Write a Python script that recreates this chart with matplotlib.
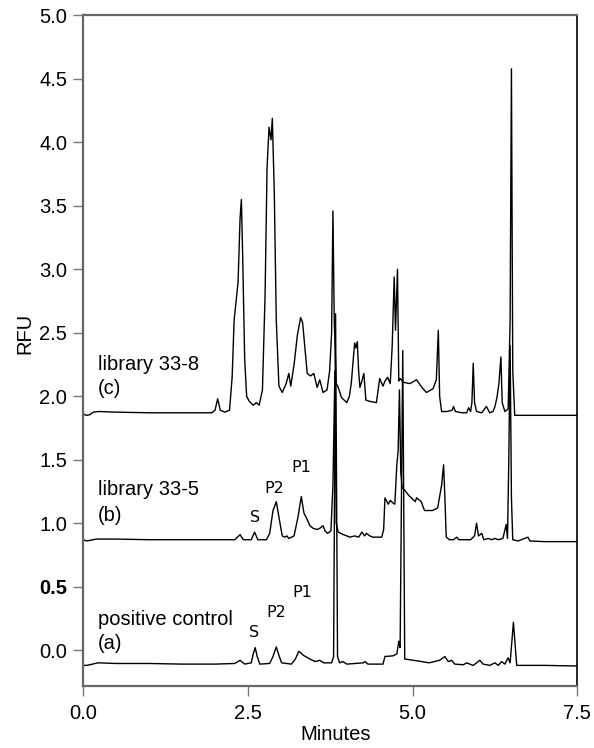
import matplotlib
matplotlib.use("Agg")
import matplotlib.pyplot as plt
import numpy as np

plt.rcParams['font.family'] = ['Liberation Sans', 'DejaVu Sans']

# trace (c) library 33-8 : time (min), RFU
t_c = [0.0, 0.05, 0.10, 0.15, 0.23, 0.5, 1.0, 1.5, 1.95, 2.00, 2.04, 2.08, 2.15, 2.22,
       2.26, 2.29, 2.32, 2.35, 2.38, 2.40, 2.42, 2.45, 2.48, 2.52, 2.58, 2.63, 2.67, 2.72,
       2.76, 2.79, 2.82, 2.85, 2.87, 2.90, 2.93, 2.97, 3.02, 3.08, 3.12, 3.15, 3.20, 3.25,
       3.30, 3.33, 3.37, 3.40, 3.45, 3.50, 3.55, 3.59, 3.64, 3.70, 3.74, 3.77, 3.79, 3.81,
       3.84, 3.87, 3.92, 4.00, 4.04, 4.07, 4.10, 4.12, 4.14, 4.16, 4.18, 4.20, 4.23, 4.26,
       4.29, 4.35, 4.45, 4.50, 4.55, 4.58, 4.62, 4.66, 4.69, 4.72, 4.74, 4.77, 4.79, 4.81,
       4.86, 4.96, 5.06, 5.14, 5.21, 5.31, 5.36, 5.39, 5.41, 5.44, 5.52, 5.60, 5.62, 5.65,
       5.75, 5.82, 5.85, 5.88, 5.90, 5.92, 5.94, 5.97, 6.05, 6.12, 6.17, 6.22, 6.25, 6.28,
       6.31, 6.34, 6.36, 6.40, 6.45, 6.48, 6.50, 6.52, 6.55, 6.70, 7.0, 7.25, 7.5]
y_c = [1.86, 1.85, 1.855, 1.875, 1.88, 1.875, 1.87, 1.87, 1.87, 1.89, 1.98, 1.89, 1.875, 1.89,
       2.15, 2.6, 2.75, 2.9, 3.4, 3.55, 3.1, 2.3, 2.0, 1.96, 1.93, 1.95, 1.93, 2.05,
       2.8, 3.8, 4.12, 4.02, 4.19, 3.6, 2.6, 2.08, 2.03, 2.1, 2.18, 2.08, 2.25, 2.48,
       2.62, 2.58, 2.35, 2.18, 2.16, 2.18, 2.07, 2.13, 2.03, 2.05, 2.2, 2.5, 3.46, 2.6,
       2.1, 2.07, 1.99, 1.95, 2.0, 2.11, 2.3, 2.42, 2.38, 2.43, 2.2, 2.07, 2.12, 2.18,
       1.97, 1.96, 1.95, 2.14, 2.08, 2.12, 2.15, 2.1, 2.4, 2.94, 2.52, 3.0, 2.12, 2.14,
       2.11, 2.1, 2.13, 2.07, 2.03, 2.06, 2.13, 2.52, 2.0, 1.88, 1.88, 1.89, 1.92, 1.88,
       1.87, 1.87, 1.91, 1.88, 1.95, 2.26, 1.95, 1.88, 1.87, 1.92, 1.87, 1.88, 1.92, 1.99,
       2.1, 2.31, 1.95, 1.88, 1.9, 2.6, 4.58, 2.2, 1.85, 1.85, 1.85, 1.85, 1.85]

# trace (b) library 33-5
t_b = [0.0, 0.05, 0.1, 0.2, 0.5, 1.0, 1.5, 2.0, 2.3, 2.38, 2.43, 2.55, 2.60, 2.65, 2.78,
       2.83, 2.88, 2.93, 2.97, 3.02, 3.06, 3.09, 3.12, 3.20, 3.26, 3.31, 3.35, 3.39, 3.44,
       3.49, 3.55, 3.59, 3.64, 3.67, 3.71, 3.76, 3.79, 3.82, 3.84, 3.87, 3.95, 4.0, 4.05,
       4.12, 4.18, 4.23, 4.27, 4.30, 4.35, 4.40, 4.53, 4.56, 4.58, 4.63, 4.66, 4.70, 4.73,
       4.76, 4.78, 4.80, 4.82, 4.84, 4.88, 4.94, 5.04, 5.06, 5.13, 5.18, 5.30, 5.38, 5.44,
       5.47, 5.49, 5.51, 5.56, 5.62, 5.67, 5.70, 5.80, 5.88, 5.94, 5.97, 6.00, 6.05, 6.08,
       6.15, 6.20, 6.25, 6.30, 6.37, 6.42, 6.44, 6.46, 6.48, 6.50, 6.52, 6.6, 6.75, 6.78,
       7.0, 7.5]
y_b = [0.87, 0.86, 0.865, 0.875, 0.875, 0.87, 0.87, 0.87, 0.87, 0.91, 0.87, 0.87, 0.93, 0.87, 0.87,
       0.92, 1.1, 1.17, 1.05, 0.9, 0.89, 0.9, 0.88, 0.9, 1.05, 1.21, 1.08, 1.04, 0.98,
       0.96, 0.95, 0.96, 0.98, 0.94, 0.92, 0.94, 1.3, 2.2, 1.0, 0.93, 0.91, 0.9, 0.89,
       0.9, 0.89, 0.93, 0.9, 0.92, 0.9, 0.89, 0.89, 0.95, 1.2, 1.15, 1.18, 1.16, 1.15,
       1.46, 1.57, 2.05, 1.4, 1.28, 1.26, 1.22, 1.17, 1.2, 1.17, 1.1, 1.1, 1.12, 1.3,
       1.46, 1.2, 0.89, 0.87, 0.87, 0.89, 0.87, 0.87, 0.87, 0.9, 1.0, 0.9, 0.92, 0.87,
       0.88, 0.87, 0.88, 0.87, 0.88, 0.99, 0.88, 1.5, 2.4, 1.2, 0.87, 0.86, 0.89, 0.86,
       0.855, 0.855]

# trace (a) positive control
t_a = [0.0, 0.05, 0.1, 0.18, 0.23, 0.5, 1.0, 1.5, 2.0, 2.3, 2.38, 2.45, 2.55, 2.58, 2.61,
       2.64, 2.68, 2.83, 2.88, 2.93, 2.97, 3.01, 3.16, 3.22, 3.27, 3.30, 3.34, 3.44, 3.52,
       3.59, 3.65, 3.77, 3.80, 3.83, 3.86, 3.89, 3.94, 4.0, 4.25, 4.28, 4.32, 4.55, 4.58,
       4.70, 4.76, 4.79, 4.81, 4.85, 4.88, 5.08, 5.25, 5.41, 5.49, 5.54, 5.59, 5.64, 5.77,
       5.82, 5.92, 6.02, 6.07, 6.17, 6.25, 6.30, 6.35, 6.40, 6.45, 6.48, 6.53, 6.58, 6.73,
       7.0, 7.5]
y_a = [-0.12, -0.12, -0.115, -0.105, -0.1, -0.105, -0.105, -0.11, -0.11, -0.105, -0.08, -0.11, -0.1, -0.03, 0.02,
       -0.05, -0.11, -0.105, -0.05, 0.025, -0.04, -0.1, -0.11, -0.07, -0.01, -0.02, -0.04, -0.07, -0.09,
       -0.08, -0.1, -0.1, -0.05, 2.65, -0.05, -0.1, -0.09, -0.11, -0.1, -0.09, -0.11, -0.11, -0.05,
       -0.045, -0.03, 0.07, 0.02, 2.36, -0.07, -0.085, -0.1, -0.08, -0.05, -0.09, -0.08, -0.11, -0.115,
       -0.1, -0.12, -0.08, -0.11, -0.12, -0.1, -0.12, -0.09, -0.11, -0.06, -0.1, 0.22, -0.12, -0.12,
       -0.12, -0.125]

x_ticks = [0.0, 2.5, 5.0, 7.5]
y_ticks = [0.0, 0.5, 1.0, 1.5, 2.0, 2.5, 3.0, 3.5, 4.0, 4.5, 5.0]

fig = plt.figure(figsize=(5.94, 7.48), dpi=100)
ax = fig.add_axes([0.1402, 0.0833, 0.8317, 0.896])

for t, y in [(t_c, y_c), (t_b, y_b), (t_a, y_a)]:
    ax.plot(t, y, color='black', linewidth=1.0)

ax.set_xlim(0, 7.5)
ax.set_ylim(-0.28, 5.0)
ax.set_xticks(x_ticks)
ax.set_xticklabels(['%.1f' % v for v in x_ticks])
ax.set_yticks(y_ticks)
ax.set_yticklabels(['%.1f' % v for v in y_ticks])
ax.tick_params(direction='out', length=7.5, width=1, color='#777777',
               labelsize=14.5, pad=4)
ax.tick_params(axis='x', pad=6)
for lab in ax.get_yticklabels():
    if lab.get_text() == '0.5':
        lab.set_fontweight('bold')

for side in ['left', 'top', 'bottom']:
    ax.spines[side].set_color('#666666')
    ax.spines[side].set_linewidth(1.6)
ax.spines['right'].set_color('black')
ax.spines['right'].set_linewidth(1.2)

ax.set_xlabel('Minutes', fontsize=14.5)
ax.set_ylabel('RFU', fontsize=14.5)
ax.xaxis.set_label_coords(0.51, -0.059)
ax.yaxis.set_label_coords(-0.098, 0.525)

# trace names
ax.text(0.22, 2.21, 'library 33-8', fontsize=14.5)
ax.text(0.22, 2.02, '(c)', fontsize=14.5)
ax.text(0.22, 1.22, 'library 33-5', fontsize=14.5)
ax.text(0.22, 1.02, '(b)', fontsize=14.5)
ax.text(0.22, 0.20, 'positive control', fontsize=14.5)
ax.text(0.22, 0.01, '(a)', fontsize=14.5)

# peak labels
pk = dict(fontsize=11.5, ha='center', family='DejaVu Sans')
ax.text(2.61, 1.01, 'S', **pk)
ax.text(2.90, 1.24, 'P2', **pk)
ax.text(3.31, 1.40, 'P1', **pk)
ax.text(2.59, 0.10, 'S', **pk)
ax.text(2.93, 0.26, 'P2', **pk)
ax.text(3.32, 0.42, 'P1', **pk)

fig.savefig('out.png', dpi=100)
